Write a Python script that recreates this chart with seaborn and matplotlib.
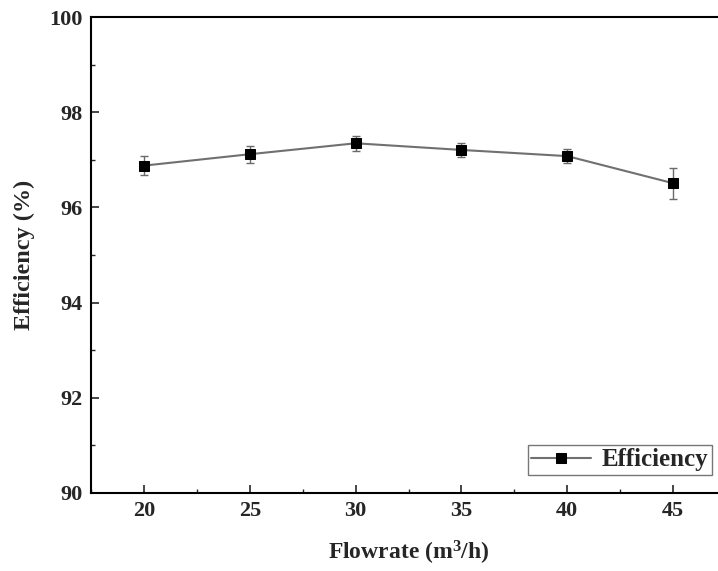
import matplotlib
matplotlib.use("Agg")
import matplotlib.pyplot as plt
import seaborn as sns
import pandas as pd
from matplotlib.ticker import MultipleLocator

flowrate = [20, 25, 30, 35, 40, 45]
efficiency = [96.88, 97.12, 97.35, 97.21, 97.08, 96.51]
error = [0.20, 0.18, 0.16, 0.15, 0.14, 0.33]
series_name = "Efficiency"

sns.set_style("ticks")
plt.rcParams['font.family'] = ['Liberation Serif', 'DejaVu Serif']
plt.rcParams['font.weight'] = 'bold'
plt.rcParams['mathtext.default'] = 'regular'

df = pd.DataFrame({"Flowrate": flowrate, "Efficiency": efficiency, "err": error})

fig = plt.figure(figsize=(7.18, 5.71), dpi=100)
ax = fig.add_axes([91/718, 1 - 492.7/571, (726 - 91)/718, (492.7 - 17.3)/571])

ax.errorbar(df["Flowrate"], df["Efficiency"], yerr=df["err"], fmt='none',
            ecolor='#6a6a6a', elinewidth=1.0, capsize=3, capthick=1.0, zorder=2)
sns.lineplot(data=df, x="Flowrate", y="Efficiency", ax=ax, color='#707070',
             linewidth=1.5, marker='s', markersize=7.5, markerfacecolor='black',
             markeredgecolor='black', label=series_name, zorder=3)

ax.set_xlim(17.5, 47.5)
ax.set_ylim(90, 100)
ax.xaxis.set_major_locator(MultipleLocator(5))
ax.xaxis.set_minor_locator(MultipleLocator(2.5))
ax.yaxis.set_major_locator(MultipleLocator(2))
ax.yaxis.set_minor_locator(MultipleLocator(1))
ax.tick_params(axis='both', which='major', direction='in', length=6, width=1.2,
               labelsize=16, pad=6)
ax.tick_params(axis='both', which='minor', direction='in', length=3, width=1.0)
for lab in ax.get_xticklabels() + ax.get_yticklabels():
    lab.set_fontweight('bold')

for s in ax.spines.values():
    s.set_linewidth(1.5)
    s.set_color('black')

ax.set_xlabel("Flowrate (m$^3$/h)", fontsize=17, fontweight='bold', labelpad=13)
ax.set_ylabel("Efficiency (%)", fontsize=17.5, fontweight='bold', labelpad=10)

leg = ax.legend(loc='lower right', bbox_to_anchor=(711.7/718, 1 - 475/571),
                bbox_transform=fig.transFigure, frameon=True, fancybox=False,
                prop={'size': 18, 'weight': 'bold'}, handlelength=2.4,
                borderpad=0.15, handletextpad=0.4, borderaxespad=0,
                markerscale=0.9)
leg.get_frame().set_edgecolor('#555555')
leg.get_frame().set_linewidth(1.0)

fig.savefig("out.png", dpi=100)
